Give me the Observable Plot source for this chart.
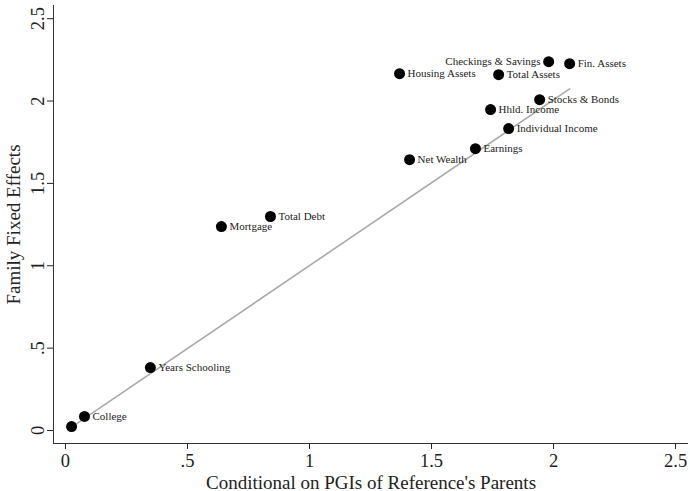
<!DOCTYPE html>
<html>
<head>
<meta charset="utf-8">
<script src="https://cdn.jsdelivr.net/npm/d3@7"></script>
<script src="https://cdn.jsdelivr.net/npm/@observablehq/plot@0.6"></script>
<style>
  html, body { margin: 0; padding: 0; background: #fff; }
  #chart svg { display: block; }
  #chart svg g[aria-label="x-axis label"] text, #chart svg g[aria-label="y-axis label"] text { font-size: 19px; }
</style>
</head>
<body>
<div id="chart"></div>
<script>
// Data
const names = ["", "College", "Years Schooling", "Mortgage", "Total Debt", "Net Wealth", "Earnings",
  "Individual Income", "Hhld. Income", "Stocks & Bonds", "Housing Assets", "Total Assets",
  "Checkings & Savings", "Fin. Assets"];
const conditional = [0.025, 0.078, 0.348, 0.639, 0.840, 1.410, 1.680, 1.816, 1.742, 1.943, 1.369, 1.775, 1.980, 2.066];
const familyFE   = [0.024, 0.085, 0.382, 1.238, 1.299, 1.644, 1.711, 1.833, 1.948, 2.008, 2.166, 2.160, 2.239, 2.227];
const tickValues = [0, 0.5, 1, 1.5, 2, 2.5];
const tickLabels = ["0", ".5", "1", "1.5", "2", "2.5"];
const fitIntercept = -0.005;
const fitSlope = 1.006;

const xDomain = [-0.049, 2.553];
const yDomain = [-0.079, 2.58];

const data = names.map((n, i) => ({name: n, x: conditional[i], y: familyFE[i]}));
const leftLabeled = new Set(["Checkings & Savings"]);
const xmin = d3.min(conditional), xmax = d3.max(conditional);
const fitLine = [xmin, xmax].map(x => ({x, y: fitIntercept + fitSlope * x}));
const fmt = v => tickLabels[tickValues.indexOf(v)];
const font = "Liberation Serif";

const chart = Plot.plot({
  width: 690,
  height: 491,
  marginLeft: 53,
  marginRight: 2,
  marginTop: 5,
  marginBottom: 48,
  style: {fontFamily: font, background: "#fff", color: "#222"},
  x: {domain: xDomain},
  y: {domain: yDomain},
  marks: [
    Plot.ruleX([xDomain[0]], {stroke: "#333", strokeWidth: 1}),
    Plot.ruleY([yDomain[0]], {stroke: "#333", strokeWidth: 1}),
    Plot.axisX({ticks: tickValues, tickFormat: fmt, tickSize: 6, tickPadding: 4, fontSize: 18.5,
      label: "Conditional on PGIs of Reference's Parents", labelAnchor: "center", labelOffset: 45,
      labelArrow: "none"}),
    Plot.axisY({ticks: tickValues, tickFormat: fmt, tickSize: 6, tickPadding: 4, tickRotate: -90,
      fontSize: 18.5, textAnchor: "middle", label: "Family Fixed Effects", labelAnchor: "center",
      labelOffset: 47, labelArrow: "none"}),
    Plot.line(fitLine, {x: "x", y: "y", stroke: "#aaaaaa", strokeWidth: 1.6}),
    Plot.dot(data, {x: "x", y: "y", r: 5.5, fill: "#000"}),
    Plot.text(data.filter(d => !leftLabeled.has(d.name)), {x: "x", y: "y", text: "name",
      textAnchor: "start", dx: 8, fontSize: 11, fill: "#222"}),
    Plot.text(data.filter(d => leftLabeled.has(d.name)), {x: "x", y: "y", text: "name",
      textAnchor: "end", dx: -8, fontSize: 11, fill: "#222"})
  ]
});
document.getElementById("chart").appendChild(chart);
</script>
</body>
</html>
